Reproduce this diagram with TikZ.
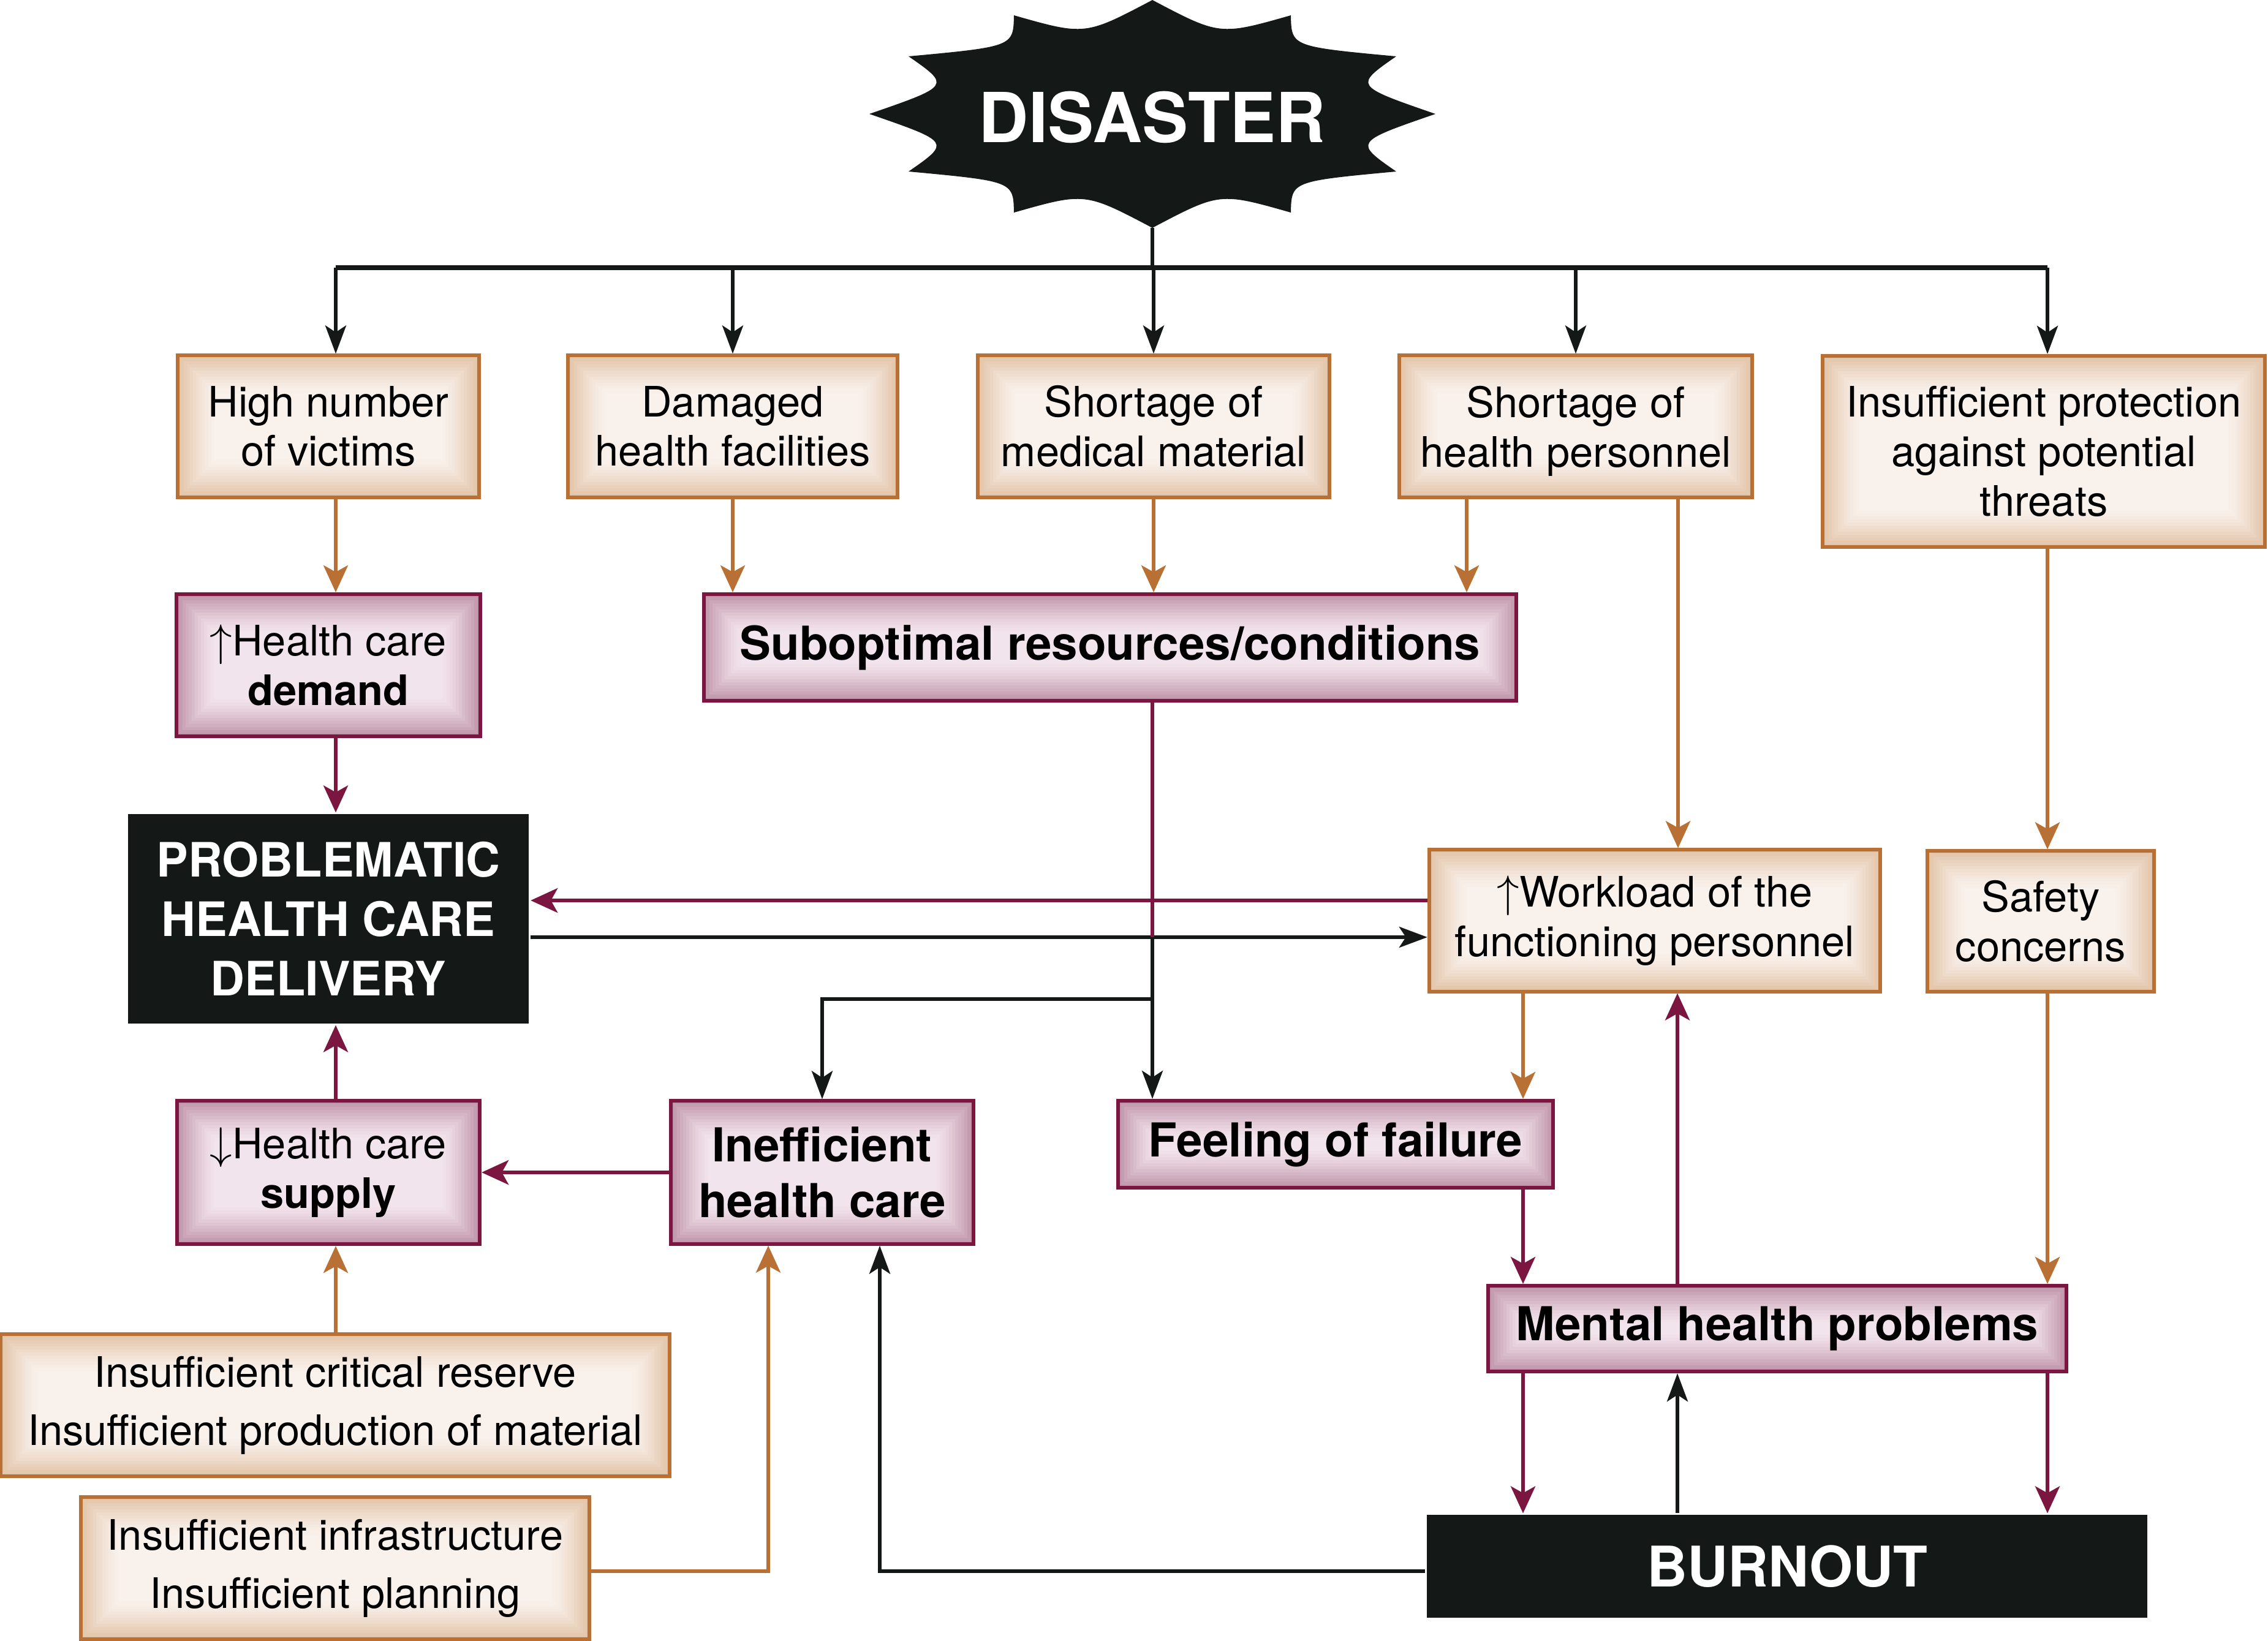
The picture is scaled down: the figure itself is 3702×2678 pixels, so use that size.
\documentclass[tikz,border=0pt]{standalone}
\usepackage{fontspec}
\setmainfont{TeX Gyre Heros}
\usetikzlibrary{arrows.meta,calc}
\definecolor{ocl}{RGB}{185,112,52}
\definecolor{pcl}{RGB}{122,22,64}
\definecolor{bcl}{RGB}{20,24,22}
\definecolor{oin}{RGB}{249,241,236}
\definecolor{oout}{RGB}{226,196,168}
\definecolor{pin}{RGB}{242,228,236}
\definecolor{pout}{RGB}{192,148,170}
\newcommand{\myglow}[2]{%
  \foreach \i in {0,...,11}{%
    \pgfmathsetmacro{\myp}{100*(1-\i/12)^1.3}%
    \pgfmathsetmacro{\myoff}{0.025+\i*0.05}%
    \draw[line width=0.056cm, draw=#1!\myp!#2] ([shift={(\myoff cm,-\myoff cm)}]path picture bounding box.north west) rectangle ([shift={(-\myoff cm,\myoff cm)}]path picture bounding box.south east);
  }}
\newcommand{\nodp}[1]{\raisebox{0pt}[\height][0pt]{#1}}
\tikzset{
  conn/.style={line width=1.6pt},
  karr/.style={conn, draw=bcl, -{Stealth[length=0.46cm,width=0.34cm,inset=0.11cm]}},
  oarr/.style={conn, draw=ocl, -{Stealth[length=0.44cm,width=0.4cm,inset=0.11cm]}},
  parr/.style={conn, draw=pcl, -{Stealth[length=0.44cm,width=0.4cm,inset=0.11cm]}},
  kline/.style={conn, draw=bcl},
  pline/.style={conn, draw=pcl},
  basebox/.style={rectangle, inner sep=0pt, align=center, line width=1.7pt},
  obox/.style={basebox, draw=ocl, fill=oin, path picture={\myglow{oout}{oin}}, font=\fontsize{19.5}{23}\selectfont},
  pbox/.style={basebox, draw=pcl, fill=pin, path picture={\myglow{pout}{pin}}, font=\fontsize{19.5}{23}\selectfont},
  pboldbox/.style={pbox, font=\bfseries\fontsize{21.7}{26}\selectfont},
  kbox/.style={basebox, fill=bcl, text=white},
}
\begin{document}
\begin{tikzpicture}[x=0.01cm, y=-0.01cm]
\useasboundingbox (0,0) rectangle (3702,2678);
% burst
\begin{scope}[shift={(1881,186)}]
\fill[bcl] (0,-186) .. controls (110,-128) .. (226,-161) .. controls (227,-110) .. (398,-94) .. controls (329,-46) .. (462,0) .. controls (329,46) .. (398,94) .. controls (227,110) .. (226,161) .. controls (110,128) .. (0,186) .. controls (-110,128) .. (-226,161) .. controls (-227,110) .. (-398,94) .. controls (-329,46) .. (-462,0) .. controls (-329,-46) .. (-398,-94) .. controls (-227,-110) .. (-226,-161) .. controls (-110,-128) .. (0,-186) -- cycle;
\end{scope}
\node[text=white, font=\bfseries\fontsize{32}{36}\selectfont] (disaster) at (1881,191) {DISASTER};
\coordinate (dtip) at (1881,372);

% boxes
\node[obox, minimum width=4.92cm, minimum height=2.31cm] (victims) at (536,696) {High number\\of victims};
\node[obox, minimum width=5.37cm, minimum height=2.31cm] (damaged) at (1196,696) {Damaged\\health facilities};
\node[obox, minimum width=5.74cm, minimum height=2.31cm] (medical) at (1883,696) {Shortage of\\medical material};
\node[obox, minimum width=5.75cm, minimum height=2.31cm] (personnel) at (2572,696) {Shortage of\\\nodp{health personnel}};
\node[obox, minimum width=7.22cm, minimum height=3.12cm] (protection) at (3336,737) {Insufficient protection\\against potential\\threats};
\node[pbox, minimum width=4.95cm, minimum height=2.32cm] (demand) at (536,1086) {$\uparrow$Health care\\\textbf{demand}};
\node[pboldbox, minimum width=13.26cm, minimum height=1.74cm] (suboptimal) at (1812,1057) {Suboptimal resources/conditions};
\node[kbox, minimum width=6.54cm, minimum height=3.41cm, font=\bfseries\fontsize{22}{27.5}\selectfont] (problematic) at (536,1500) {PROBLEMATIC\\HEALTH CARE\\DELIVERY};
\node[obox, minimum width=7.36cm, minimum height=2.31cm] (workload) at (2701,1503) {$\uparrow$Workload of the\\functioning personnel};
\node[obox, minimum width=3.69cm, minimum height=2.29cm] (safety) at (3331,1504) {Safety\\concerns};
\node[pbox, minimum width=4.94cm, minimum height=2.34cm] (supply) at (536,1914) {$\downarrow$Health care\\\textbf{supply}};
\node[pboldbox, minimum width=4.94cm, minimum height=2.33cm] (inefficient) at (1342,1914) {Inefficient\\health care};
\node[pboldbox, minimum width=7.10cm, minimum height=1.42cm] (failure) at (2180,1868) {Feeling of failure};
\node[pboldbox, minimum width=9.43cm, minimum height=1.40cm] (mental) at (2901,2169) {Mental health problems};
\node[kbox, minimum width=11.76cm, minimum height=1.67cm, font=\bfseries\fontsize{26}{30}\selectfont] (burnout) at (2917,2557) {BURNOUT};
\node[obox, minimum width=10.91cm, minimum height=2.31cm, font=\fontsize{19.5}{27}\selectfont] (reserve) at (547,2294) {Insufficient critical reserve\\Insufficient production of material};
\node[obox, minimum width=8.29cm, minimum height=2.31cm, font=\fontsize{19.5}{27}\selectfont] (infra) at (547,2560) {Insufficient infrastructure\\Insufficient planning};

% helper coordinates
\coordinate (lc) at (548,0);
\coordinate (rc) at (3342,0);
\coordinate (bus) at (0,437);
\coordinate (pc1) at (2394,0);
\coordinate (pc2) at (2739,0);
\coordinate (h1) at (0,1470);
\coordinate (h2) at (0,1530);
\coordinate (h3) at (0,1631);
\coordinate (sc) at (1881,0);
\coordinate (mc1) at (2486,0);
\coordinate (mc2) at (2738,0);
\coordinate (h4) at (0,2565);
\coordinate (bx1) at (1436,0);
\coordinate (bx2) at (1254,0);

% disaster bus
\draw[kline] (dtip) -- (dtip|-bus);
\draw[kline, line width=2pt] (lc|-bus) -- (rc|-bus);
\draw[karr] (lc|-bus) -- (lc|-victims.north);
\draw[karr] (damaged.north|-bus) -- (damaged.north);
\draw[karr] (medical.north|-bus) -- (medical.north);
\draw[karr] (personnel.north|-bus) -- (personnel.north);
\draw[karr] (rc|-bus) -- (rc|-protection.north);

% left column
\draw[oarr] (lc|-victims.south) -- (lc|-demand.north);
\draw[parr] (lc|-demand.south) -- (lc|-problematic.north);
\draw[parr] (lc|-supply.north) -- (lc|-problematic.south);
\draw[oarr] (lc|-reserve.north) -- (lc|-supply.south);

% into suboptimal
\draw[oarr] (damaged.south) -- (damaged.south|-suboptimal.north);
\draw[oarr] (medical.south) -- (medical.south|-suboptimal.north);
\draw[oarr] (pc1|-personnel.south) -- (pc1|-suboptimal.north);
\draw[oarr] (pc2|-personnel.south) -- (pc2|-workload.north);
\draw[oarr] (rc|-protection.south) -- (rc|-safety.north);

% workload <-> problematic
\draw[parr] (workload.west|-h1) -- (problematic.east|-h1);
\draw[karr] (problematic.east|-h2) -- (workload.west|-h2);

% suboptimal down
\draw[karr] (sc|-h2) -- (sc|-failure.north);
\draw[karr] (sc|-h3) -| (inefficient.north);
\draw[pline] (sc|-suboptimal.south) -- (sc|-h2);

% inefficient -> supply
\draw[parr] (inefficient.west) -- (supply.east);

% right side
\draw[oarr] (mc1|-workload.south) -- (mc1|-failure.north);
\draw[parr] (mc1|-failure.south) -- (mc1|-mental.north);
\draw[oarr] (rc|-safety.south) -- (rc|-mental.north);
\draw[parr] (mc2|-mental.north) -- (mc2|-workload.south);
\draw[parr] (mc1|-mental.south) -- (mc1|-burnout.north);
\draw[parr] (rc|-mental.south) -- (rc|-burnout.north);
\draw[karr] (mc2|-burnout.north) -- (mc2|-mental.south);

% bottom
\draw[karr] (burnout.west|-h4) -| (bx1|-inefficient.south);
\draw[oarr] (infra.east|-h4) -| (bx2|-inefficient.south);
\end{tikzpicture}
\end{document}
